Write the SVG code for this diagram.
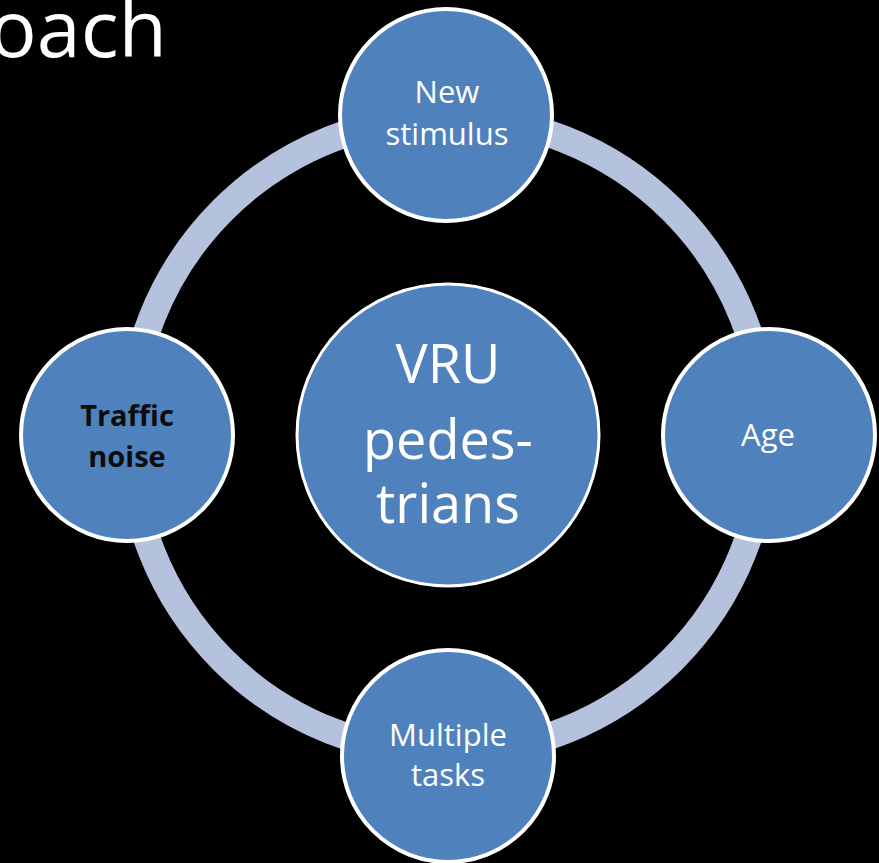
<svg xmlns="http://www.w3.org/2000/svg" width="879" height="863" viewBox="0 0 879 863">
<style>
.node{fill:#4f81bd;stroke:#ffffff;stroke-width:4}
.t{font-family:"Open Sans","Noto Sans",sans-serif;fill:#ffffff;text-anchor:middle;font-variant-ligatures:none}
.s{font-size:31px}
.big{font-size:54px}
.b{font-weight:bold;fill:#0d0d0d;font-size:29px}
</style>
<rect x="0" y="0" width="879" height="863" fill="#000000"/>
<text x="167" y="57" class="t" style="font-size:79px;text-anchor:end">oach</text>
<g id="connectors">
<circle cx="447.5" cy="435" r="318" fill="none" stroke="#b4c2de" stroke-width="27"/>
</g>
<g id="center">
<circle class="node" cx="448" cy="435" r="151" style="stroke-width:3"/>
<text class="t big" x="448" y="383">VRU</text>
<text class="t big" x="448" y="459">pedes-</text>
<text class="t big" x="448" y="523">trians</text>
</g>
<g id="top">
<circle class="node" cx="446" cy="115" r="106"/>
<text class="t s" x="447" y="103">New</text>
<text class="t s" x="447" y="145">stimulus</text>
</g>
<g id="left">
<circle class="node" cx="127" cy="435" r="106"/>
<text class="t b" x="127" y="426">Traffic</text>
<text class="t b" x="127" y="467">noise</text>
</g>
<g id="right">
<circle class="node" cx="769" cy="435" r="106"/>
<text class="t s" x="768" y="446">Age</text>
</g>
<g id="bottom">
<circle class="node" cx="448" cy="756" r="106"/>
<text class="t s" x="448" y="746">Multiple</text>
<text class="t s" x="448" y="786">tasks</text>
</g>
</svg>
